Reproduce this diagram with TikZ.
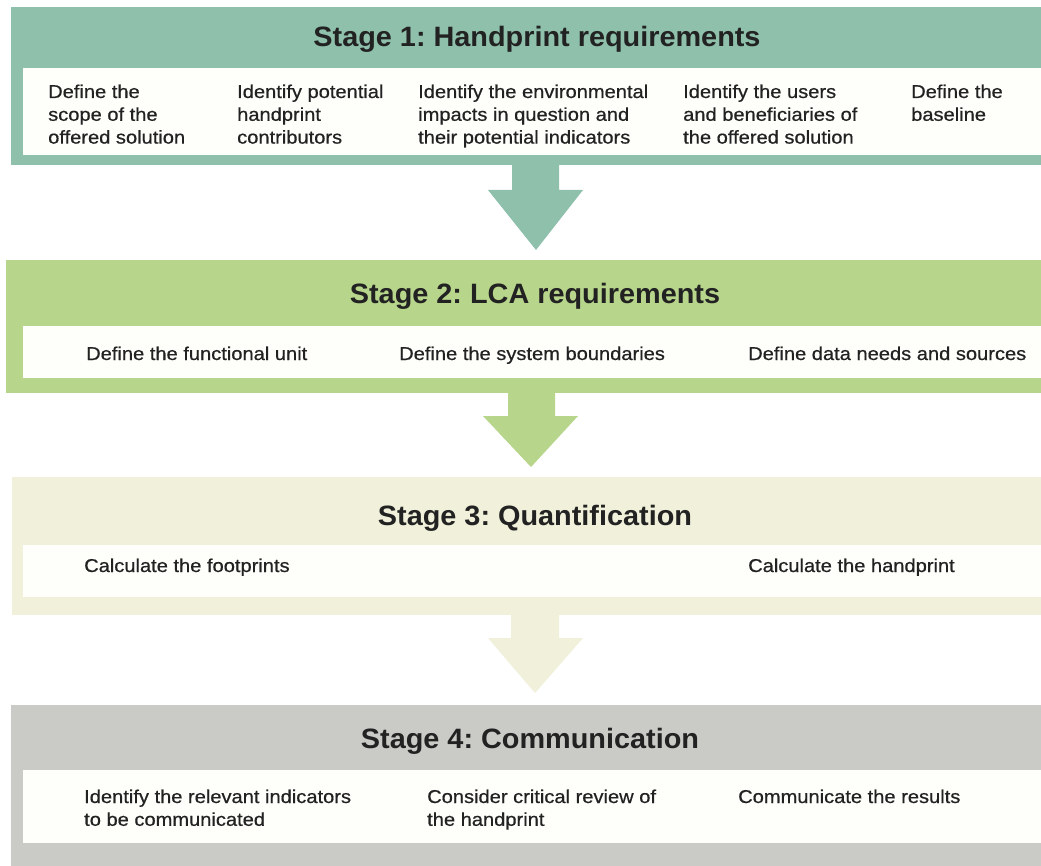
\documentclass[tikz,border=0pt]{standalone}
\usepackage{fontspec}
\setmainfont{Liberation Sans}
\newfontfamily\bodyfont[FakeStretch=1.08,FakeBold=0.6]{Liberation Sans}
\newfontfamily\titlefont[FakeStretch=1.03]{Liberation Sans}
\definecolor{cteal}{HTML}{8EC0AC}
\definecolor{cgreen}{HTML}{B7D58B}
\definecolor{cpale}{HTML}{F1F0DA}
\definecolor{cgrey}{HTML}{CACBC6}
\definecolor{cwhite}{HTML}{FEFEFB}
\definecolor{ctext}{HTML}{222222}
\newcommand{\lines}[1]{\begin{tabular}[t]{@{}l@{}}#1\end{tabular}}
\begin{document}
\frenchspacing
\begin{tikzpicture}[x=1pt,y=-1pt,
  band/.style={anchor=north west,inner sep=0pt,outer sep=0pt,draw=none},
  inner/.style={anchor=north west,inner sep=0pt,outer sep=0pt,fill=cwhite,draw=none},
  title/.style={anchor=base,inner sep=0pt,text=ctext,font=\frenchspacing\titlefont\bfseries\fontsize{28}{32}\selectfont},
  item/.style={anchor=base west,inner sep=0pt,text=ctext,font=\bodyfont\fontsize{18.6}{22.8}\selectfont}]
\useasboundingbox[fill=white] (0,0) rectangle (1041,866);
% Stage boxes
\node[band,fill=cteal,minimum width=1030pt,minimum height=158pt] (s1) at (11,7) {};
\node[inner,minimum width=1018pt,minimum height=87pt] (w1) at (23,68) {};
\node[band,fill=cgreen,minimum width=1035pt,minimum height=133pt] (s2) at (6,260) {};
\node[inner,minimum width=1018pt,minimum height=52pt] (w2) at (23,326) {};
\node[band,fill=cpale,minimum width=1029pt,minimum height=138pt] (s3) at (12,477) {};
\node[inner,minimum width=1018pt,minimum height=52pt] (w3) at (23,545) {};
\node[band,fill=cgrey,minimum width=1030pt,minimum height=161pt] (s4) at (11,705) {};
\node[inner,minimum width=1018pt,minimum height=73pt] (w4) at (23,770) {};
% Arrows
\fill[cteal] (512,165) -- (559,165) -- (559,190) -- (583,190) -- (536,250) -- (488,190) -- (512,190) -- cycle;
\fill[cgreen] (508,393) -- (555,393) -- (555,416) -- (578,416) -- (531,467) -- (483,416) -- (508,416) -- cycle;
\fill[cpale] (511,615) -- (559,615) -- (559,638) -- (583,638) -- (535,693) -- (488,638) -- (511,638) -- cycle;
% Titles
\node[title] (t1) at (537,47) {Stage 1: Handprint requirements};
\node[title] (t2) at (535,304) {Stage 2: LCA requirements};
\node[title] (t3) at (535,525) {Stage 3: Quantification};
\node[title] (t4) at (530,748) {Stage 4: Communication};
% Stage 1 items
\node[item] (a1) at (48,98) {\lines{Define the\\scope of the\\offered solution}};
\node[item] (a2) at (237,98) {\lines{Identify potential\\handprint\\contributors}};
\node[item] (a3) at (418,98) {\lines{Identify the environmental\\impacts in question and\\their potential indicators}};
\node[item] (a4) at (683,98) {\lines{Identify the users\\and beneficiaries of\\the offered solution}};
\node[item] (a5) at (911,98) {\lines{Define the\\baseline}};
% Stage 2 items
\node[item] (b1) at (86,360) {Define the functional unit};
\node[item] (b2) at (399,360) {Define the system boundaries};
\node[item] (b3) at (748,360) {Define data needs and sources};
% Stage 3 items
\node[item] (c1) at (84,572) {Calculate the footprints};
\node[item] (c2) at (748,572) {Calculate the handprint};
% Stage 4 items
\node[item] (d1) at (84,803) {\lines{Identify the relevant indicators\\to be communicated}};
\node[item] (d2) at (427,803) {\lines{Consider critical review of\\the handprint}};
\node[item] (d3) at (738,803) {Communicate the results};
\end{tikzpicture}
\end{document}
